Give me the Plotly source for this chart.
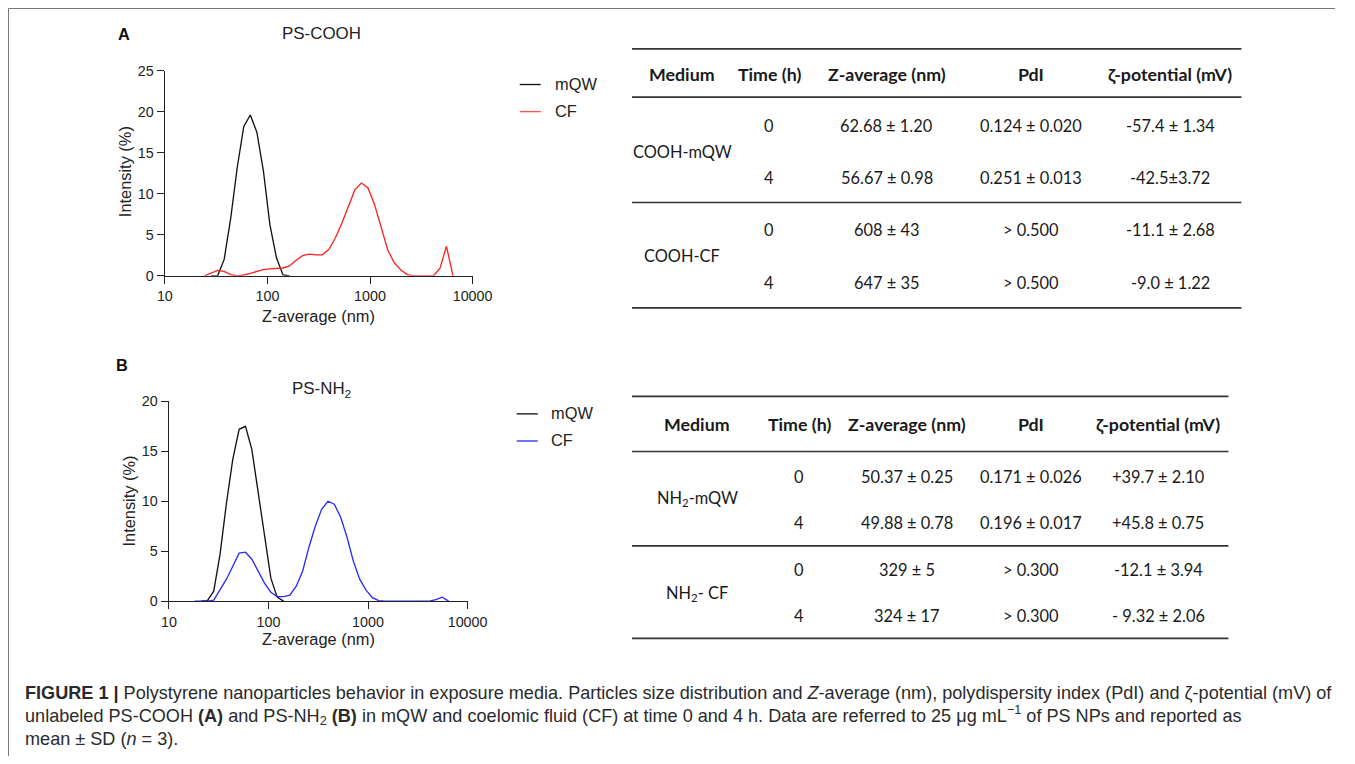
import plotly.graph_objects as go

W, H = 1355, 764

# ---------------- data (DLS intensity distributions) ----------------
sizes_A_mqw = [28.21, 32.67, 37.84, 43.82, 50.75, 58.77, 68.06, 78.82, 91.28, 105.7, 122.4, 141.8, 164.2]
int_A_mqw = [0, 0, 2.0, 7.0, 13.2, 18.2, 19.6, 17.5, 12.8, 6.2, 2.2, 0.1, 0]

sizes_A_cf = [24.36, 28.21, 32.67, 37.84, 43.82, 50.75, 58.77, 68.06, 78.82, 91.28, 105.7, 122.4,
              141.8, 164.2, 190.1, 220.2, 255.0, 295.3, 342.0, 396.1, 458.7, 531.2, 615.1, 712.4,
              825.0, 955.4, 1106, 1281, 1484, 1718, 1990, 2305, 2669, 3091, 3580, 4145, 4801, 5560, 6439]
int_A_cf = [0, 0.35, 0.65, 0.55, 0.15, 0, 0.1, 0.3, 0.55, 0.75, 0.85, 0.9,
            0.95, 1.2, 1.9, 2.45, 2.65, 2.55, 2.55, 3.2, 4.6, 6.4, 8.5, 10.5,
            11.3, 10.7, 8.7, 6.0, 3.2, 1.6, 0.75, 0.15, 0, 0, 0, 0, 0.9, 3.6, 0]

sizes_B_mqw = [21.04, 24.36, 28.21, 32.67, 37.84, 43.82, 50.75, 58.77, 68.06, 78.82, 91.28, 105.7, 122.4, 141.8]
int_B_mqw = [0, 0.05, 1.0, 4.7, 9.8, 14.2, 17.2, 17.5, 15.2, 11.0, 6.9, 2.3, 0.4, 0]

sizes_B_cf = [18.17, 21.04, 24.36, 28.21, 32.67, 37.84, 43.82, 50.75, 58.77, 68.06, 78.82, 91.28,
              105.7, 122.4, 141.8, 164.2, 190.1, 220.2, 255.0, 295.3, 342.0, 396.1, 458.7, 531.2,
              615.1, 712.4, 825.0, 955.4, 1106, 1281, 1484, 1718, 1990, 2305, 2669, 3091, 3580,
              4145, 4801, 5560, 6439]
int_B_cf = [0, 0, 0, 0.1, 1.1, 2.2, 3.5, 4.8, 4.9, 4.2, 3.0, 1.8,
            0.9, 0.45, 0.45, 0.6, 1.5, 3.0, 5.4, 7.5, 9.2, 10.0, 9.7, 8.4,
            6.4, 4.0, 2.2, 1.1, 0.35, 0.05, 0, 0, 0, 0, 0, 0, 0,
            0, 0.15, 0.4, 0]

x_tickvals = [10, 100, 1000, 10000]
x_ticktext = ["10", "100", "1000", "10000"]
yA_ticks = [0, 5, 10, 15, 20, 25]
yB_ticks = [0, 5, 10, 15, 20]

# ---------------- tables ----------------
table_header = ["Medium", "Time (h)", "Z-average (nm)", "PdI", "ζ-potential (mV)"]

tA_medium = ["COOH-mQW", "COOH-CF"]
tA_time = ["0", "4", "0", "4"]
tA_zavg = ["62.68 ± 1.20", "56.67 ± 0.98", "608 ± 43", "647 ± 35"]
tA_pdi = ["0.124 ± 0.020", "0.251 ± 0.013", "> 0.500", "> 0.500"]
tA_zeta = ["-57.4 ± 1.34", "-42.5±3.72", "-11.1 ± 2.68", "-9.0 ± 1.22"]

tB_medium = ["NH<sub>2</sub>-mQW", "NH<sub>2</sub>- CF"]
tB_time = ["0", "4", "0", "4"]
tB_zavg = ["50.37 ± 0.25", "49.88 ± 0.78", "329 ± 5", "324 ± 17"]
tB_pdi = ["0.171 ± 0.026", "0.196 ± 0.017", "> 0.300", "> 0.300"]
tB_zeta = ["+39.7 ± 2.10", "+45.8 ± 0.75", "-12.1 ± 3.94", "- 9.32 ± 2.06"]

caption_lines = [
    "<b>FIGURE 1 |</b> Polystyrene nanoparticles behavior in exposure media. Particles size distribution and "
    "<i>Z</i>-average (nm), polydispersity index (PdI) and ζ-potential (mV) of",
    "unlabeled PS-COOH <b>(A)</b> and PS-NH<sub>2</sub> <b>(B)</b> in mQW and coelomic fluid (CF) at time 0 and 4 h. "
    "Data are referred to 25 μg mL<sup>−1</sup> of PS NPs and reported as",
    "mean ± SD (<i>n</i> = 3).",
]

# ---------------- layout helpers ----------------
# target picture pixel -> page pixel (the photographed page is slightly inset/scaled)
SX, BX = 0.977, 9.5
SY, BY = 0.975, 9.3
K = 1 / 0.976  # size compensation

def fx(px):
    p = (px - BX) / SX
    return min(max(p, 0.5), W) / W

def fy(py):
    p = (py - BY) / SY
    return 1 - min(max(p, 0.5), H) / H

def fs(size):
    return round(size * K, 2)

CHART_FONT = "Liberation Sans, Arial, sans-serif"
TABLE_FONT = "Lato, Carlito, Calibri, sans-serif"
AX_COL = "#222222"
LW = 1.3 * K

fig = go.Figure()

fig.add_trace(go.Scatter(x=sizes_A_mqw, y=int_A_mqw, mode="lines", name="mQW",
                         line=dict(color="#111111", width=LW), xaxis="x", yaxis="y", showlegend=False))
fig.add_trace(go.Scatter(x=sizes_A_cf, y=int_A_cf, mode="lines", name="CF",
                         line=dict(color="#ff2020", width=LW), xaxis="x", yaxis="y", showlegend=False))
fig.add_trace(go.Scatter(x=sizes_B_mqw, y=int_B_mqw, mode="lines", name="mQW",
                         line=dict(color="#111111", width=LW), xaxis="x2", yaxis="y2", showlegend=False))
fig.add_trace(go.Scatter(x=sizes_B_cf, y=int_B_cf, mode="lines", name="CF",
                         line=dict(color="#2a2aff", width=LW), xaxis="x2", yaxis="y2", showlegend=False))

axis_common = dict(showgrid=False, zeroline=False, showline=True, linecolor=AX_COL, linewidth=LW,
                   ticks="outside", ticklen=7 * K, tickwidth=LW, tickcolor=AX_COL,
                   tickfont=dict(family=CHART_FONT, size=fs(14), color=AX_COL))

fig.update_layout(
    width=W, height=H, autosize=False,
    margin=dict(l=0, r=0, t=0, b=0),
    paper_bgcolor="white", plot_bgcolor="white",
    font=dict(family=CHART_FONT, size=fs(14), color=AX_COL),
    xaxis=dict(domain=[fx(166), fx(473)], type="log", range=[1, 4], anchor="y",
               tickvals=x_tickvals, ticktext=x_ticktext, **axis_common),
    yaxis=dict(domain=[fy(276), fy(71.7)], range=[0, 25], anchor="x",
               tickvals=yA_ticks, **axis_common),
    xaxis2=dict(domain=[fx(170), fx(468)], type="log", range=[1, 4], anchor="y2",
                tickvals=x_tickvals, ticktext=x_ticktext, **axis_common),
    yaxis2=dict(domain=[fy(600), fy(401)], range=[0, 20], anchor="x2",
                tickvals=yB_ticks, **axis_common),
)

ann = []
shapes = []

def text(px, py, s, size=15, family=CHART_FONT, color=AX_COL, xanchor="center", angle=0, bold=False):
    ann.append(dict(x=fx(px), y=fy(py), xref="paper", yref="paper", text=s, showarrow=False,
                    xanchor=xanchor, yanchor="middle", textangle=angle,
                    font=dict(family=family, size=size, color=color,
                              weight="bold" if bold else "normal")))

def hline(x0, x1, py, color="#333333", width=1.6):
    shapes.append(dict(type="line", xref="paper", yref="paper", x0=fx(x0), x1=fx(x1),
                       y0=fy(py), y1=fy(py), line=dict(color=color, width=width * K)))

# figure frame (top and left borders)
shapes.append(dict(type="line", xref="paper", yref="paper", x0=fx(7.5), x1=1, y0=fy(7.5), y1=fy(7.5),
                   line=dict(color="#777777", width=1)))
shapes.append(dict(type="line", xref="paper", yref="paper", x0=fx(7.5), x1=fx(7.5), y0=fy(7.5), y1=0,
                   line=dict(color="#777777", width=1)))

# panel labels, titles, axis titles
text(125, 35, "A", size=fs(16), bold=True, color="#111")
text(123, 365, "B", size=fs(16), bold=True, color="#111")
text(322, 35, "PS-COOH", size=fs(16.5))
text(322, 390, "PS-NH<sub>2</sub>", size=fs(16.5))
text(319, 316, "Z-average (nm)", size=fs(16))
text(319, 638, "Z-average (nm)", size=fs(16))
text(127, 172, "Intensity (%)", size=fs(16), angle=-90)
text(130, 500, "Intensity (%)", size=fs(16), angle=-90)

# legends
hline(520, 541, 85.5, color="#111111", width=1.3)
hline(520, 541, 112.5, color="#ff5050", width=1.3)
text(553, 85, "mQW", size=fs(16), xanchor="left")
text(553, 112, "CF", size=fs(16), xanchor="left")
hline(517, 538, 413.5, color="#111111", width=1.3)
hline(517, 538, 440.5, color="#2a2aff", width=1.3)
text(549, 413, "mQW", size=fs(16), xanchor="left")
text(549, 440, "CF", size=fs(16), xanchor="left")

# tables
def draw_table(x0, x1, col_x, lines_y, header_y, row_y, med_y, medium, time, zavg, pdi, zeta):
    for ly in lines_y:
        hline(x0, x1, ly)
    for cx, h in zip(col_x, table_header):
        text(cx, header_y, h, size=17.8, family=TABLE_FONT, color="#1a1a1a", bold=True)
    for my, m in zip(med_y, medium):
        text(col_x[0], my, m, size=16.4, family=TABLE_FONT, color="#1a1a1a")
    for i, ry in enumerate(row_y):
        for cx, col in zip(col_x[1:], (time, zavg, pdi, zeta)):
            text(cx, ry, col[i], size=16.4, family=TABLE_FONT, color="#1a1a1a")

draw_table(632, 1240, [682, 769, 886, 1030, 1169], [50, 98, 203, 308], 75,
           [126, 178, 230, 283], [152, 256], tA_medium, tA_time, tA_zavg, tA_pdi, tA_zeta)
draw_table(632, 1227, [697, 799, 906, 1030, 1157], [396, 451, 545, 637], 424,
           [476, 522, 568, 614], [498, 592], tB_medium, tB_time, tB_zavg, tB_pdi, tB_zeta)

# caption
for py, line in zip([691, 714, 737], caption_lines):
    text(24, py, line, size=18.1, color="#2a2a2a", xanchor="left")

fig.update_layout(annotations=ann, shapes=shapes)

fig.write_html("out.html", config={"displayModeBar": False},
               post_script="document.documentElement.style.margin='0';document.body.style.margin='0';"
                           "document.body.style.overflow='hidden';")
